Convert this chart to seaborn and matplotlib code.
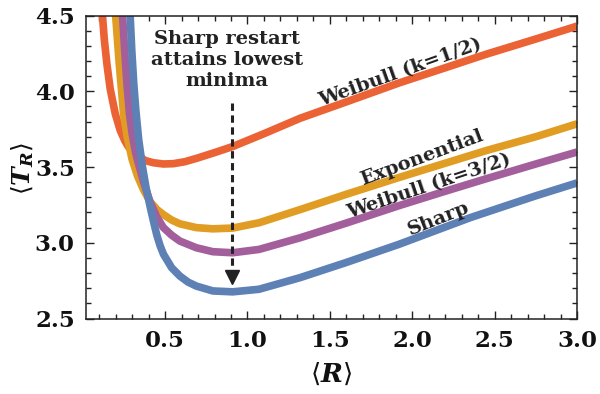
import numpy as np
import pandas as pd
import matplotlib
matplotlib.use("Agg")
import matplotlib.pyplot as plt
from matplotlib.ticker import MultipleLocator
import seaborn as sns

# ---- data ----
x_weibull_half = [0.115, 0.12, 0.131, 0.147, 0.167, 0.198, 0.228, 0.255, 0.278, 0.319, 0.379, 0.43, 0.49, 0.55, 0.62, 0.69, 0.80, 0.91, 1.10, 1.32, 1.60, 1.92, 2.20, 2.45, 2.75, 3.0]
y_weibull_half = [4.60, 4.50, 4.344, 4.18, 4.015, 3.85, 3.741, 3.675, 3.632, 3.587, 3.543, 3.528, 3.52, 3.522, 3.535, 3.557, 3.595, 3.635, 3.72, 3.822, 3.93, 4.055, 4.155, 4.245, 4.345, 4.43]

x_exponential = [0.197, 0.20, 0.222, 0.248, 0.27, 0.30, 0.333, 0.369, 0.41, 0.45, 0.49, 0.54, 0.59, 0.69, 0.79, 0.91, 1.07, 1.32, 1.60, 1.92, 2.20, 2.45, 2.75, 3.0]
y_exponential = [4.60, 4.50, 4.18, 3.85, 3.70, 3.55, 3.44, 3.35, 3.27, 3.22, 3.186, 3.15, 3.125, 3.10, 3.092, 3.097, 3.132, 3.219, 3.32, 3.431, 3.525, 3.609, 3.70, 3.785]

x_weibull_3half = [0.238, 0.242, 0.256, 0.27, 0.284, 0.30, 0.32, 0.339, 0.37, 0.409, 0.45, 0.49, 0.54, 0.59, 0.69, 0.79, 0.91, 1.07, 1.32, 1.60, 1.92, 2.20, 2.45, 2.75, 3.0]
y_weibull_3half = [4.60, 4.50, 4.25, 4.03, 3.85, 3.72, 3.60, 3.52, 3.40, 3.27, 3.17, 3.10, 3.05, 3.011, 2.967, 2.941, 2.934, 2.956, 3.033, 3.13, 3.245, 3.34, 3.423, 3.52, 3.599]

x_sharp = [0.284, 0.288, 0.298, 0.31, 0.323, 0.34, 0.363, 0.385, 0.409, 0.43, 0.45, 0.47, 0.49, 0.54, 0.59, 0.64, 0.69, 0.79, 0.91, 1.07, 1.32, 1.60, 1.92, 2.35, 2.75, 3.0]
y_sharp = [4.60, 4.50, 4.27, 4.05, 3.87, 3.68, 3.50, 3.36, 3.24, 3.14, 3.05, 2.98, 2.925, 2.835, 2.78, 2.74, 2.714, 2.682, 2.676, 2.693, 2.77, 2.87, 2.99, 3.165, 3.31, 3.395]

series_names = ["Weibull (k=1/2)", "Exponential", "Weibull (k=3/2)", "Sharp"]
series_colors = ["#EB6235", "#E19C24", "#A35F9C", "#5E81B5"]

x_ticks = [0.5, 1.0, 1.5, 2.0, 2.5, 3.0]
y_ticks = [2.5, 3.0, 3.5, 4.0, 4.5]

annotation_text = "Sharp restart\nattains lowest\nminima"
arrow_x = 0.909
arrow_y_start = 3.92
arrow_y_end = 2.825
arrow_head_y = 2.775

frames = []
for name, xs, ys in zip(series_names,
                        [x_weibull_half, x_exponential, x_weibull_3half, x_sharp],
                        [y_weibull_half, y_exponential, y_weibull_3half, y_sharp]):
    frames.append(pd.DataFrame({"R": xs, "T": ys, "series": name}))
df = pd.concat(frames, ignore_index=True)

sns.set_style("ticks")
plt.rcParams["font.family"] = ["DejaVu Serif"]
plt.rcParams["mathtext.fontset"] = "dejavuserif"

fig = plt.figure(figsize=(6.0, 3.94), dpi=100)
ax = fig.add_axes([0.1433, 0.1916, 0.8184, 0.7690])

sns.lineplot(data=df, x="R", y="T", hue="series", hue_order=series_names,
             palette=series_colors, sort=False, estimator=None, units="series",
             linewidth=5.5, legend=False, ax=ax)
for line in ax.get_lines():
    line.set_solid_capstyle("butt")
    line.set_solid_joinstyle("round")

ax.set_xlim(0.02, 3.0)
ax.set_ylim(2.5, 4.5)

ax.set_xticks(x_ticks)
ax.set_xticklabels([f"{v:.1f}" for v in x_ticks])
ax.set_yticks(y_ticks)
ax.set_yticklabels([f"{v:.1f}" for v in y_ticks])
ax.xaxis.set_minor_locator(MultipleLocator(0.1))
ax.yaxis.set_minor_locator(MultipleLocator(0.1))
ax.tick_params(which="both", direction="in", top=True, right=True, color="#222222", width=1.0)
ax.tick_params(which="major", length=6, labelsize=16.5, pad=8)
ax.tick_params(which="minor", length=3.5)
for lab in ax.get_xticklabels() + ax.get_yticklabels():
    lab.set_fontweight("bold")
    lab.set_color("#111111")
for s in ax.spines.values():
    s.set_color("#222222")
    s.set_linewidth(1.1)

ax.set_xlabel("")
ax.set_ylabel("")
fig.text(331 / 600, 1 - 374 / 394, r"$\langle \boldsymbol{R} \rangle$", fontsize=19,
         ha="center", va="center", color="#111111")
fig.text(23 / 600, 1 - 168 / 394, r"$\langle \boldsymbol{T}_{\boldsymbol{R}} \rangle$", fontsize=18,
         ha="center", va="center", rotation=90, color="#111111")

# curve labels
label_specs = [
    ("Weibull (k=1/2)", 1.927, 4.12, 19.7),
    ("Exponential", 2.06, 3.561, 20.5),
    ("Weibull (k=3/2)", 2.10, 3.37, 18.5),
    ("Sharp", 2.157, 3.16, 21.5),
]
for txt, lx, ly, rot in label_specs:
    ax.text(lx, ly, txt, rotation=rot, rotation_mode="anchor", ha="center", va="center",
            fontsize=14, fontweight="bold", color="#222222")

ax.text(0.878, 4.206, annotation_text, ha="center", va="center", fontsize=14,
        fontweight="bold", color="#222222", linespacing=1.2)

ax.plot([arrow_x, arrow_x], [arrow_y_start, arrow_y_end], color="#222222", lw=2.2,
        linestyle=(0, (2.4, 1.5)))
ax.plot([arrow_x], [arrow_head_y], marker="v", markersize=10, color="#222222", linestyle="none")

fig.savefig("out.png", dpi=100)
